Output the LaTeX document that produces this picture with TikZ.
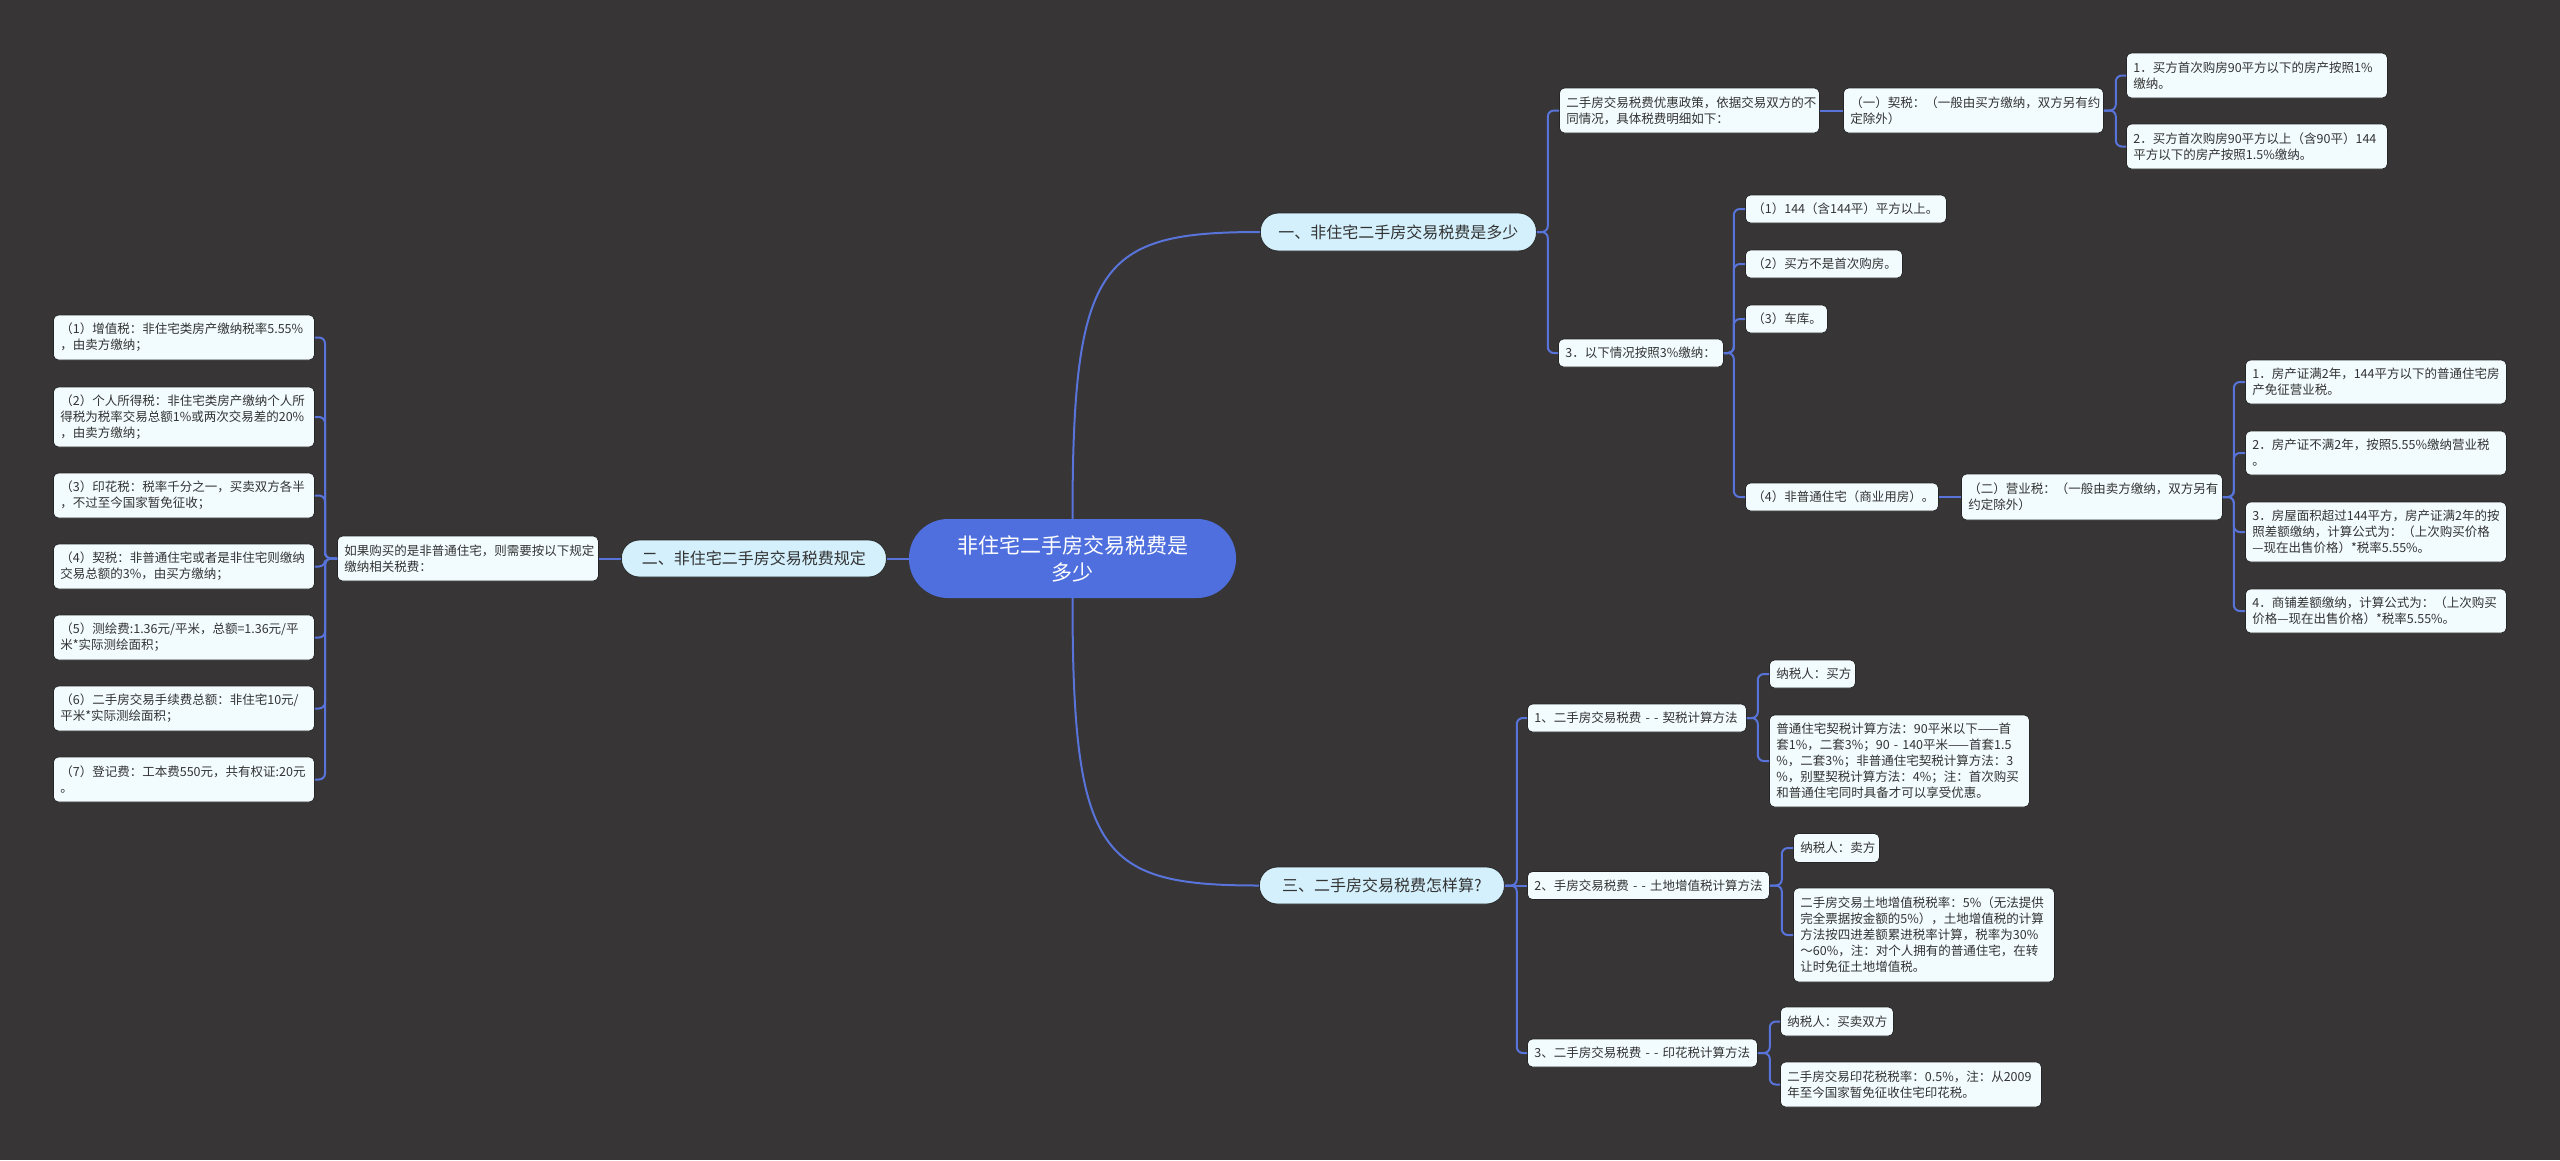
\documentclass[tikz,border=0pt]{standalone}
\usepackage{fontspec}
\newfontfamily\cjk{Noto Sans CJK SC}
\definecolor{bgc}{HTML}{373536}
\definecolor{linec}{HTML}{5874DA}
\definecolor{rootc}{HTML}{4E6FDD}
\definecolor{branchc}{HTML}{D3F0FC}
\definecolor{leafc}{HTML}{F2FBFE}
\definecolor{leafb}{HTML}{262626}
\definecolor{textc}{HTML}{333333}
\tikzset{
 conn/.style={draw=linec, line width=2pt, rounded corners=6pt},
 leaf/.style={draw=leafb, line width=0.8pt, fill=leafc, rounded corners=5pt, text=textc,
   font=\cjk\fontsize{12.5}{16}\selectfont, align=left, inner xsep=7pt, inner ysep=2pt, anchor=west},
 branch/.style={draw=leafb, line width=0.8pt, fill=branchc, text=textc,
   font=\cjk\fontsize{16}{20}\selectfont, rounded corners=18pt, inner sep=0pt, align=center, anchor=west},
 root/.style={fill=rootc, text=white, font=\cjk\fontsize{21}{27}\selectfont,
   rounded corners=39pt, align=center, inner sep=0pt}
}
\begin{document}
\begin{tikzpicture}[x=1pt,y=-1pt]
\fill[bgc] (0,0) rectangle (2560,1160);
\useasboundingbox (0,0) rectangle (2560,1160);

% root and branches
\node[root, minimum width=327pt, minimum height=79pt] (C) at (1072.5,558.5) {非住宅二手房交易税费是\\多少};
\node[branch, minimum width=276pt, minimum height=38pt] (B1) at (1260,232) {一、非住宅二手房交易税费是多少};
\node[branch, minimum width=265pt, minimum height=37pt] (B2) at (621,558.5) {二、非住宅二手房交易税费规定};
\node[branch, minimum width=245pt, minimum height=37pt] (B3) at (1259,885.5) {三、二手房交易税费怎样算?};

% left side
\node[leaf, text width=247pt, minimum height=45pt] (RG) at (337,558.5) {如果购买的是非普通住宅，则需要按以下规定\\缴纳相关税费：};
\node[leaf, text width=247pt, minimum height=45pt] (L1) at (53,337.5) {（1）增值税：非住宅类房产缴纳税率5.55\%\\，由卖方缴纳；};
\node[leaf, text width=247pt, minimum height=60pt] (L2) at (53,417) {（2）个人所得税：非住宅类房产缴纳个人所\\得税为税率交易总额1\%或两次交易差的20\%\\，由卖方缴纳；};
\node[leaf, text width=247pt, minimum height=45pt] (L3) at (53,495.5) {（3）印花税：税率千分之一，买卖双方各半\\，不过至今国家暂免征收；};
\node[leaf, text width=247pt, minimum height=45pt] (L4) at (53,566.5) {（4）契税：非普通住宅或者是非住宅则缴纳\\交易总额的3\%，由买方缴纳；};
\node[leaf, text width=247pt, minimum height=45pt] (L5) at (53,637.5) {（5）测绘费:1.36元/平米，总额=1.36元/平\\米*实际测绘面积；};
\node[leaf, text width=247pt, minimum height=45pt] (L6) at (53,708.5) {（6）二手房交易手续费总额：非住宅10元/\\平米*实际测绘面积；};
\node[leaf, text width=247pt, minimum height=45pt] (L7) at (53,779.5) {（7）登记费：工本费550元，共有权证:20元\\。};

% branch 1 side
\node[leaf, text width=246pt, minimum height=45pt] (Y1) at (1559,110.5) {二手房交易税费优惠政策，依据交易双方的不\\同情况，具体税费明细如下：};
\node[leaf, text width=246pt, minimum height=45pt] (Q1) at (1843,110.5) {（一）契税：（一般由买方缴纳，双方另有约\\定除外）};
\node[leaf, text width=247pt, minimum height=45pt] (Q11) at (2126,75.5) {1．买方首次购房90平方以下的房产按照1\%\\缴纳。};
\node[leaf, text width=247pt, minimum height=45pt] (Q12) at (2126,146.5) {2．买方首次购房90平方以上（含90平）144\\平方以下的房产按照1.5\%缴纳。};
\node[leaf, text width=151pt, minimum height=28pt] (S3) at (1558,353) {3．以下情况按照3\%缴纳：};
\node[leaf, text width=187pt, minimum height=28pt] (P1) at (1745,209) {（1）144（含144平）平方以上。};
\node[leaf, text width=143pt, minimum height=28pt] (P2) at (1745,264) {（2）买方不是首次购房。};
\node[leaf, text width=68pt, minimum height=28pt] (P3) at (1745,319) {（3）车库。};
\node[leaf, text width=179pt, minimum height=28pt] (P4) at (1745,497) {（4）非普通住宅（商业用房）。};
\node[leaf, text width=247pt, minimum height=46pt] (E2) at (1961,497) {（二）营业税：（一般由卖方缴纳，双方另有\\约定除外）};
\node[leaf, text width=247pt, minimum height=44pt] (R1) at (2245,382) {1．房产证满2年，144平方以下的普通住宅房\\产免征营业税。};
\node[leaf, text width=247pt, minimum height=44pt] (R2) at (2245,453) {2．房产证不满2年，按照5.55\%缴纳营业税\\。};
\node[leaf, text width=247pt, minimum height=60pt] (R3) at (2245,532) {3．房屋面积超过144平方，房产证满2年的按\\照差额缴纳，计算公式为：（上次购买价格\\—现在出售价格）*税率5.55\%。};
\node[leaf, text width=247pt, minimum height=44pt] (R4) at (2245,611) {4．商铺差额缴纳，计算公式为：（上次购买\\价格—现在出售价格）*税率5.55\%。};

% branch 3 side
\node[leaf, text width=205pt, minimum height=28pt] (T1) at (1527,718) {\mbox{1、二手房交易税费 - - 契税计算方法}};
\node[leaf, text width=72pt, minimum height=28pt] (T11) at (1769,674) {纳税人：买方};
\node[leaf, text width=246pt, minimum height=92pt] (T12) at (1769,761) {普通住宅契税计算方法：90平米以下——首\\\mbox{套1\%，二套3\%；90 - 140平米——首套1.5}\\\%，二套3\%；非普通住宅契税计算方法：3\\\%，别墅契税计算方法：4\%；注：首次购买\\和普通住宅同时具备才可以享受优惠。};
\node[leaf, text width=228pt, minimum height=28pt] (T2) at (1527,885.5) {\mbox{2、手房交易税费 - - 土地增值税计算方法}};
\node[leaf, text width=72pt, minimum height=29pt] (T21) at (1793,848) {纳税人：卖方};
\node[leaf, text width=247pt, minimum height=94pt] (T22) at (1793,935) {二手房交易土地增值税税率：5\%（无法提供\\完全票据按金额的5\%），土地增值税的计算\\方法按四进差额累进税率计算，税率为30\%\\～60\%，注：对个人拥有的普通住宅，在转\\让时免征土地增值税。};
\node[leaf, text width=216pt, minimum height=28pt] (T3) at (1527,1053) {\mbox{3、二手房交易税费 - - 印花税计算方法}};
\node[leaf, text width=99pt, minimum height=29pt] (T31) at (1780,1021.5) {纳税人：买卖双方};
\node[leaf, text width=247pt, minimum height=45pt] (T32) at (1780,1084.5) {二手房交易印花税税率：0.5\%，注：从2009\\年至今国家暂免征收住宅印花税。};

% connectors from root
\draw[conn] (C.north) .. controls (1072.5,262) and (1100,232) .. (B1.west);
\draw[conn] (C.south) .. controls (1072.5,856) and (1100,885.5) .. (B3.west);
\draw[conn] (C.west) -- (B2.east);
\draw[conn] (B2.west) -- (RG.east);
\foreach \n in {L1,L2,L3,L4,L5,L6,L7} \draw[conn] (RG.west) -- ++(-12,0) |- (\n.east);

\draw[conn] (B1.east) -- ++(11,0) |- (Y1.west);
\draw[conn] (B1.east) -- ++(11,0) |- (S3.west);
\draw[conn] (Y1.east) -- (Q1.west);
\draw[conn] (Q1.east) -- ++(12,0) |- (Q11.west);
\draw[conn] (Q1.east) -- ++(12,0) |- (Q12.west);
\foreach \n in {P1,P2,P3,P4} \draw[conn] (S3.east) -- ++(10,0) |- (\n.west);
\draw[conn] (P4.east) -- (E2.west);
\foreach \n in {R1,R2,R3,R4} \draw[conn] (E2.east) -- ++(11,0) |- (\n.west);

\draw[conn] (B3.east) -- ++(12,0) |- (T1.west);
\draw[conn] (B3.east) -- (T2.west);
\draw[conn] (B3.east) -- ++(12,0) |- (T3.west);
\draw[conn] (T1.east) -- ++(11,0) |- (T11.west);
\draw[conn] (T1.east) -- ++(11,0) |- (T12.west);
\draw[conn] (T2.east) -- ++(12,0) |- (T21.west);
\draw[conn] (T2.east) -- ++(12,0) |- (T22.west);
\draw[conn] (T3.east) -- ++(12,0) |- (T31.west);
\draw[conn] (T3.east) -- ++(12,0) |- (T32.west);
\end{tikzpicture}
\end{document}
